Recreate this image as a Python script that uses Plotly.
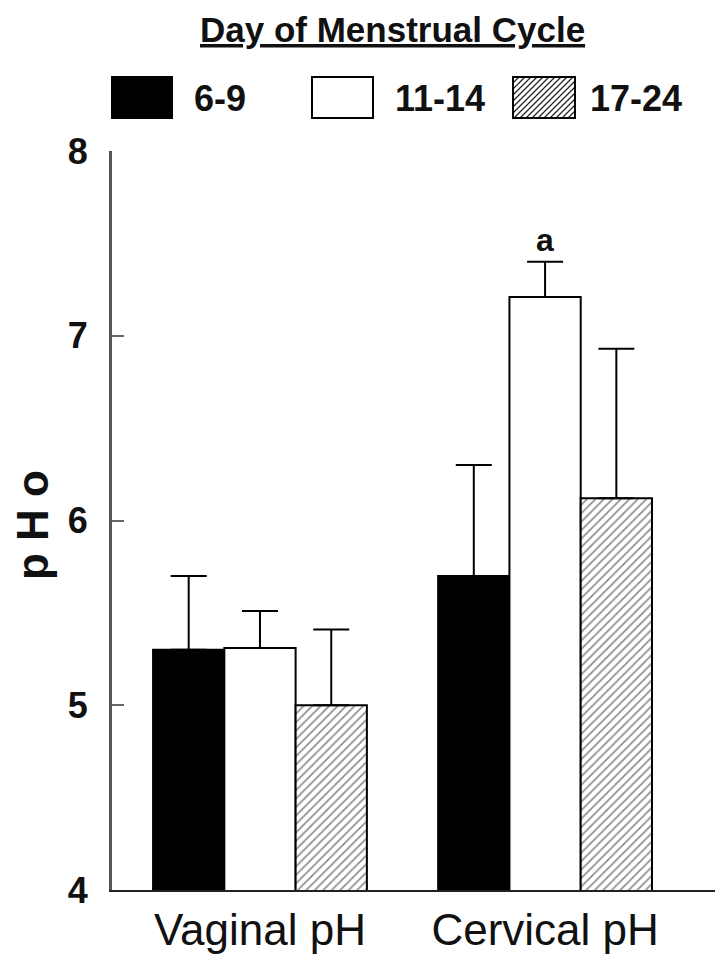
import plotly.graph_objects as go

# data
SITES = ["Vaginal pH", "Cervical pH"]
GROUPS = ["6-9", "11-14", "17-24"]
MEANS = {
    "6-9": [5.30, 5.70],
    "11-14": [5.31, 7.21],
    "17-24": [5.00, 6.12],
}
SEM = {
    "6-9": [0.40, 0.60],
    "11-14": [0.20, 0.19],
    "17-24": [0.41, 0.81],
}
SIG_LABEL = "a"  # 11-14 cervical

FONT = "Liberation Sans, Arial, sans-serif"

# the page body has an 8px margin, so the figure is drawn 8px in from the corner
OFF = 8
W, H = 726 - 2 * OFF, 963 - 2 * OFF
# plot area in page pixels: x 112..715, y 151..890
L, R, T, B = 112 - OFF, W - (715 - OFF), 151 - OFF, H - (890 - OFF)
PW, PH = W - L - R, H - T - B


def px(x):
    return (x - OFF - L) / PW


def py(y):
    return (H - B - (y - OFF)) / PH


styles = {
    "6-9": dict(color="black", pattern=None),
    "11-14": dict(color="white", pattern=None),
    "17-24": dict(color="white", pattern=dict(shape="/", fgcolor="#1a1a1a", bgcolor="white",
                                               size=6, solidity=0.28)),
}

fig = go.Figure()
for g in GROUPS:
    st = styles[g]
    marker = dict(color=st["color"], line=dict(color="black", width=2))
    if st["pattern"]:
        marker["pattern"] = st["pattern"]
    fig.add_trace(go.Bar(
        x=SITES, y=MEANS[g], name=g, showlegend=False,
        marker=marker,
        error_y=dict(type="data", array=SEM[g], arrayminus=[0, 0], symmetric=False,
                     color="black", thickness=2, width=18),
    ))

# significance mark above the 11-14 cervical bar
fig.add_annotation(x=SITES[1], y=MEANS["11-14"][1] + SEM["11-14"][1], text="<b>" + SIG_LABEL + "</b>",
                   showarrow=False, yanchor="bottom", yshift=2,
                   font=dict(family=FONT, size=32, color="#111"))

# y axis title, spaced letters like the original
fig.add_annotation(xref="paper", yref="paper", x=px(32), y=py(525), text="<b>p H o</b>",
                   textangle=-90, showarrow=False, xanchor="center", yanchor="middle",
                   font=dict(family=FONT, size=44, color="#111"))

# hand-built legend (the plotly legend swatch is fixed at 12px)
fig.add_annotation(xref="paper", yref="paper", x=px(392), y=py(30), text="<b>Day of Menstrual Cycle</b>",
                   showarrow=False, xanchor="center", yanchor="middle",
                   font=dict(family=FONT, size=35, color="#111", lineposition="under"))

swatches = [(112, 172), (312, 373), (513, 575)]
label_x = [192, 393, 588]
sy0, sy1 = 77, 118
for g, (x0, x1), lx in zip(GROUPS, swatches, label_x):
    fill = "black" if g == "6-9" else "white"
    fig.add_shape(type="rect", xref="paper", yref="paper",
                  x0=px(x0), x1=px(x1), y0=py(sy1), y1=py(sy0),
                  fillcolor=fill, line=dict(color="black", width=2))
    if styles[g]["pattern"]:
        hh = sy1 - sy0
        c = x0 - hh
        while c < x1:
            t0, t1 = max(0, x0 - c), min(hh, x1 - c)
            if t0 < t1:
                fig.add_shape(type="line", xref="paper", yref="paper",
                              x0=px(c + t0), y0=py(sy1 - t0), x1=px(c + t1), y1=py(sy1 - t1),
                              line=dict(color="#222", width=1.2))
            c += 6
        fig.add_shape(type="rect", xref="paper", yref="paper",
                      x0=px(x0), x1=px(x1), y0=py(sy1), y1=py(sy0),
                      line=dict(color="black", width=2))
    fig.add_annotation(xref="paper", yref="paper", x=px(lx), y=py((sy0 + sy1) / 2 + 1),
                       text=f"<b>{g}</b>", showarrow=False, xanchor="left", yanchor="middle",
                       font=dict(family=FONT, size=36, color="#111"))

fig.update_layout(
    width=W, height=H,
    margin=dict(l=L, r=R, t=T, b=B),
    paper_bgcolor="white", plot_bgcolor="white",
    barmode="group", bargap=0.25, bargroupgap=0,
    font=dict(family=FONT, color="#111"),
)
fig.update_xaxes(type="category", range=[-0.519, 1.596], automargin=False,
                 showline=True, linecolor="#222", linewidth=2,
                 ticks="", showgrid=False, zeroline=False,
                 tickfont=dict(family=FONT, size=44, color="#111"),
                 ticklabelstandoff=0)
fig.update_yaxes(range=[4, 8], tickvals=[4, 5, 6, 7, 8], automargin=False,
                 showline=True, linecolor="#555", linewidth=3,
                 ticks="inside", ticklen=12, tickwidth=1.5, tickcolor="#666",
                 showgrid=False, zeroline=False,
                 tickfont=dict(family=FONT, size=36, color="#111", weight="bold"),
                 ticklabelstandoff=14)

fig.write_html("out.html")
